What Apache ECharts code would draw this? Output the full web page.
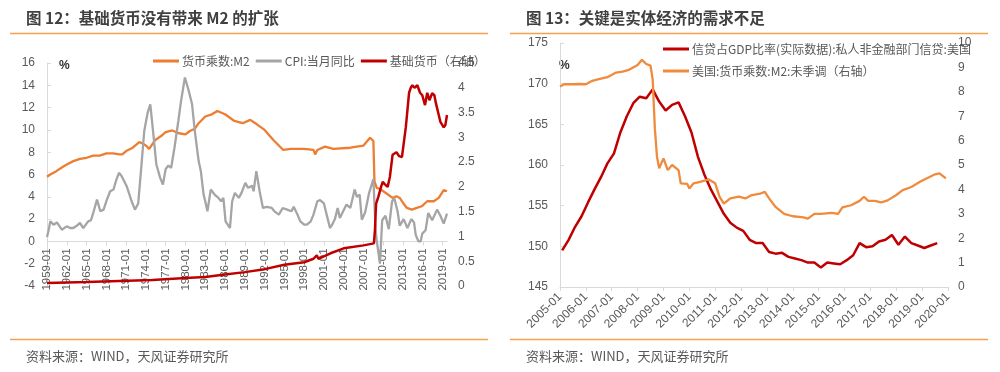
<!DOCTYPE html>
<html><head><meta charset="utf-8">
<script src="https://cdn.jsdelivr.net/npm/echarts@6/dist/echarts.min.js"></script>
<style>html,body{margin:0;padding:0;background:#fff}#c{width:1000px;height:372px}</style>
</head><body><div id="c"></div>
<script>
// ---------- Left chart (Fig.12) ----------
const leftStartYear = 1959, leftEndYear = 2019, leftEndMonth = 9;
const leftLegend = ['货币乘数:M2', 'CPI:当月同比', '基础货币（右轴）'];
const leftYTicks = { min: -4, max: 16, interval: 2 };
const leftRYTicks = { min: 0, max: 4.5, interval: 0.5 };
const m2Mult = [
['1959-01',5.8],['1959-07',6.0],['1960-06',6.3],['1961-06',6.7],['1962-01',6.9],['1963-01',7.2],['1964-01',7.4],
['1965-01',7.5],['1966-01',7.7],['1967-01',7.7],['1968-01',7.9],['1969-01',7.9],['1970-01',7.8],['1970-06',7.8],
['1971-01',8.1],['1972-01',8.4],['1973-01',8.9],['1973-06',8.8],['1974-01',8.6],['1974-07',8.3],['1975-06',9.1],
['1976-06',9.5],['1977-01',9.8],['1978-01',9.95],['1979-01',9.7],['1980-01',9.6],['1980-09',9.9],['1981-06',10.1],
['1982-01',10.6],['1983-01',11.2],['1984-01',11.4],['1984-11',11.7],['1986-01',11.4],['1987-06',10.8],['1988-09',10.6],
['1989-11',10.9],['1990-11',10.5],['1992-01',10.0],['1993-05',9.1],['1994-11',8.2],['1996-01',8.3],['1998-01',8.3],
['1999-06',8.2],['1999-09',7.8],['2000-01',8.2],['2001-03',8.5],['2002-06',8.3],['2005-01',8.4],['2007-01',8.6],
['2008-01',9.3],['2008-07',9.0],['2008-09',5.4],['2009-01',4.8],['2009-07',4.7],['2010-07',4.3],['2011-06',3.9],
['2012-01',4.05],['2012-07',3.9],['2013-01',3.45],['2013-08',3.0],['2014-05',2.85],['2015-02',3.0],['2015-11',3.15],
['2016-09',3.6],['2017-09',3.6],['2018-06',3.9],['2019-03',4.6],['2019-09',4.5]
];
const cpi = [
['1959-01',0.4],['1959-04',1.0],['1959-07',1.8],['1960-01',1.5],['1960-07',1.7],['1961-04',1.05],['1962-01',1.35],
['1962-07',1.2],['1963-01',1.2],['1963-07',1.4],['1964-01',1.65],['1964-07',1.2],['1965-04',1.8],['1965-09',1.9],
['1966-02',2.7],['1966-08',3.75],['1967-02',2.7],['1967-08',2.85],['1968-02',3.75],['1968-08',4.5],['1969-02',4.65],
['1969-07',5.5],['1969-12',6.15],['1970-05',5.85],['1971-02',4.95],['1971-11',3.6],['1972-05',2.85],['1972-11',3.4],
['1973-05',6.9],['1973-10',9.9],['1974-04',11.5],['1974-09',12.3],['1975-02',9.9],['1975-08',6.9],['1976-03',5.7],
['1976-08',5.1],['1977-01',6.5],['1977-06',6.8],['1977-11',6.6],['1978-05',8.4],['1978-12',10.8],['1979-05',12.6],
['1979-12',14.7],['1980-03',14.8],['1980-07',13.5],['1981-01',12.3],['1981-06',9.9],['1982-01',7.2],['1982-05',6.3],
['1982-10',4.2],['1983-01',3.6],['1983-05',2.7],['1983-11',4.65],['1984-06',4.2],['1985-01',3.9],['1985-06',3.6],
['1985-10',3.9],['1986-02',1.8],['1986-06',1.5],['1986-10',1.2],['1987-02',3.6],['1987-07',4.35],['1988-02',3.9],
['1988-07',4.35],['1989-02',5.25],['1989-07',4.8],['1990-02',5.0],['1990-05',4.5],['1990-10',6.3],['1991-04',4.5],
['1991-10',3.0],['1992-05',3.1],['1993-02',3.0],['1993-07',2.7],['1994-03',2.4],['1994-10',3.0],['1995-06',2.85],
['1996-02',2.7],['1996-06',3.1],['1997-01',2.4],['1997-06',1.8],['1998-01',1.5],['1998-06',1.5],['1999-01',1.8],
['1999-06',2.4],['2000-01',3.6],['2000-06',3.7],['2001-01',3.4],['2001-06',2.4],['2001-12',1.2],['2002-04',1.5],
['2002-09',2.0],['2003-02',3.0],['2003-06',2.1],['2004-06',3.3],['2005-01',3.0],['2005-09',4.65],['2006-01',4.0],
['2006-06',4.2],['2006-10',1.95],['2007-04',2.6],['2007-11',4.3],['2008-07',5.6],['2008-11',1.1],['2009-01',0.1],
['2009-07',-2.0],['2009-11',1.9],['2010-05',2.3],['2010-11',1.1],['2011-05',3.6],['2011-09',3.9],['2012-03',2.7],
['2012-07',1.4],['2013-02',2.0],['2013-09',1.2],['2014-04',2.0],['2014-09',1.7],['2014-12',0.6],['2015-05',0.0],
['2015-09',0.0],['2015-12',0.7],['2016-06',1.0],['2016-11',2.55],['2017-06',1.9],['2018-03',2.85],['2018-09',2.3],
['2019-03',1.6],['2019-09',2.5]
];
const baseMoney = [
['1959-01',0.06],['1965-01',0.08],['1970-01',0.10],['1975-01',0.12],['1980-01',0.16],['1983-01',0.18],['1986-01',0.23],
['1989-01',0.28],['1992-01',0.34],['1995-01',0.43],['1998-01',0.48],['1999-06',0.55],['1999-12',0.62],['2000-03',0.55],
['2001-01',0.60],['2002-01',0.66],['2004-01',0.76],['2007-01',0.82],['2008-08',0.86],['2008-09',0.9],['2008-10',1.15],
['2008-11',1.45],['2008-12',1.66],['2009-04',1.8],['2009-09',2.0],['2009-12',2.1],['2010-04',2.05],['2010-09',2.0],
['2011-01',2.2],['2011-06',2.65],['2012-01',2.7],['2012-06',2.62],['2012-11',2.6],['2013-06',3.2],['2013-12',3.9],
['2014-03',4.0],['2014-06',4.05],['2014-10',4.0],['2015-03',4.05],['2015-08',3.9],['2015-12',3.85],['2016-05',3.65],
['2016-09',3.9],['2017-01',3.75],['2017-06',3.89],['2017-10',3.85],['2018-01',3.68],['2018-06',3.45],['2018-09',3.31],
['2019-03',3.2],['2019-06',3.25],['2019-09',3.45]
];

// ---------- Right chart (Fig.13) ----------
const rightStartYear = 2005, rightEndYear = 2020;
const rightLegend = ['信贷占GDP比率(实际数据):私人非金融部门信贷:美国', '美国:货币乘数:M2:未季调（右轴）'];
const rightYTicks = { min: 145, max: 175, interval: 5 };
const rightRYTicks = { min: 0, max: 10, interval: 1 };
const creditGdp = [
['2005-02',149.5],['2005-05',150.8],['2005-08',152.4],['2005-11',153.7],['2006-02',155.4],['2006-05',157.0],
['2006-08',158.5],['2006-11',160.2],['2007-02',161.4],['2007-05',164.0],['2007-08',166.0],['2007-11',167.6],
['2008-02',168.4],['2008-05',168.2],['2008-08',169.3],['2008-11',167.8],['2009-02',166.7],['2009-05',167.4],
['2009-08',167.7],['2009-11',166.0],['2010-02',164.0],['2010-05',161.0],['2010-08',158.8],['2010-11',157.0],
['2011-02',155.5],['2011-05',154.0],['2011-08',152.9],['2011-11',152.3],['2012-02',151.9],['2012-05',150.8],
['2012-08',150.4],['2012-11',150.4],['2013-02',149.3],['2013-05',149.1],['2013-08',149.2],['2013-11',148.7],
['2014-02',148.5],['2014-05',148.3],['2014-08',148.0],['2014-11',148.0],['2015-02',147.4],['2015-05',148.0],
['2015-08',147.9],['2015-11',147.8],['2016-02',148.3],['2016-05',148.9],['2016-08',150.4],['2016-11',149.9],
['2017-02',150.0],['2017-05',150.6],['2017-08',150.8],['2017-11',151.4],['2018-02',150.2],['2018-05',151.2],
['2018-08',150.4],['2018-11',150.1],['2019-02',149.8],['2019-05',150.1],['2019-08',150.4]
];
const usM2Mult = [
['2005-01',8.22],['2005-03',8.31],['2005-07',8.31],['2005-10',8.32],['2006-01',8.31],['2006-04',8.45],['2006-07',8.52],
['2006-11',8.6],['2007-03',8.79],['2007-06',8.83],['2007-09',8.9],['2008-01',9.1],['2008-03',9.31],['2008-05',9.14],
['2008-07',9.07],['2008-08',8.5],['2008-09',6.5],['2008-10',5.34],['2008-11',4.86],['2009-01',5.27],['2009-03',4.79],
['2009-05',5.0],['2009-08',4.79],['2009-09',4.25],['2009-12',4.23],['2010-01',4.04],['2010-03',4.25],['2010-06',4.31],
['2010-10',4.41],['2011-01',4.25],['2011-03',3.7],['2011-05',3.42],['2011-08',3.63],['2011-12',3.7],['2012-03',3.63],
['2012-06',3.77],['2012-10',3.83],['2012-12',3.9],['2013-02',3.63],['2013-05',3.28],['2013-09',3.0],['2014-01',2.9],
['2014-06',2.85],['2014-08',2.8],['2014-11',3.0],['2015-02',3.0],['2015-07',3.04],['2015-10',3.0],['2015-12',3.26],
['2016-04',3.35],['2016-08',3.53],['2016-10',3.7],['2016-12',3.53],['2017-03',3.53],['2017-06',3.47],['2017-09',3.55],
['2018-01',3.77],['2018-04',3.97],['2018-08',4.1],['2018-12',4.31],['2019-03',4.45],['2019-07',4.62],['2019-09',4.66],
['2019-11',4.52],['2019-12',4.45]
];

// ---------- build categories ----------
function months(y0, y1, m1) {
  const out = [];
  for (let y = y0; y <= y1; y++) {
    const last = (y === y1) ? m1 : 12;
    for (let m = 1; m <= last; m++) out.push(y + '-' + (m < 10 ? '0' + m : m));
  }
  return out;
}
const leftCats = months(leftStartYear, leftEndYear, leftEndMonth);
const rightCats = months(rightStartYear, rightEndYear, 1);
const toIdx = (cats, arr) => arr.map(d => [cats.indexOf(d[0]), d[1]]);

const ORANGE = '#ED7D31', GRAY = '#A5A5A5', RED = '#C00000';
const AXIS = '#D9D9D9', TXT = '#595959';
const FONT = '"Liberation Sans", Arial, "Noto Sans CJK SC", sans-serif';
const CJK = '"Noto Sans CJK SC", "Liberation Sans", sans-serif';

const leftGrid = { left: 47, top: 63, width: 400, height: 223 };
// x axis sits on the zero line of the left value axis
const zeroOffset = -leftGrid.height * (0 - leftYTicks.min) / (leftYTicks.max - leftYTicks.min);

const chart = echarts.init(document.getElementById('c'), null, { renderer: 'canvas' });
const valLabel = { color: TXT, fontSize: 12, fontFamily: FONT };

chart.setOption({
  animation: false,
  textStyle: { fontFamily: CJK },
  title: [
    { text: '图 12：基础货币没有带来 M2 的扩张', left: 21, top: 5, textStyle: { fontSize: 15.5, fontWeight: 'bold', color: '#404040', fontFamily: CJK } },
    { text: '图 13：关键是实体经济的需求不足', left: 521, top: 5, textStyle: { fontSize: 15.5, fontWeight: 'bold', color: '#404040', fontFamily: CJK } },
    { text: '资料来源：WIND，天风证券研究所', left: 21, top: 345, textStyle: { fontSize: 13, fontWeight: 'normal', color: TXT, fontFamily: CJK } },
    { text: '资料来源：WIND，天风证券研究所', left: 521, top: 345, textStyle: { fontSize: 13, fontWeight: 'normal', color: TXT, fontFamily: CJK } }
  ],
  graphic: [
    { type: 'line', shape: { x1: 10, y1: 33.5, x2: 488, y2: 33.5 }, style: { stroke: '#F5A04E', lineWidth: 1.5 } },
    { type: 'line', shape: { x1: 510, y1: 33.5, x2: 988, y2: 33.5 }, style: { stroke: '#F5A04E', lineWidth: 1.5 } },
    { type: 'line', shape: { x1: 10, y1: 339.5, x2: 488, y2: 339.5 }, style: { stroke: '#F5A04E', lineWidth: 1.5 } },
    { type: 'line', shape: { x1: 510, y1: 339.5, x2: 988, y2: 339.5 }, style: { stroke: '#F5A04E', lineWidth: 1.5 } },
    { type: 'text', left: 59, top: 60, style: { text: '%', fill: '#333', font: 'bold 12px "Liberation Sans", Arial' } },
    { type: 'text', left: 559, top: 60, style: { text: '%', fill: '#333', font: 'bold 12px "Liberation Sans", Arial' } }
  ],
  legend: [
    { data: leftLegend, left: 148, top: 50, itemWidth: 26, itemHeight: 3, itemGap: 6, icon: 'rect',
      textStyle: { color: TXT, fontSize: 12, fontFamily: CJK, padding: [0, 0, 0, -2] } },
    { data: rightLegend, orient: 'vertical', left: 658, top: 38, itemWidth: 26, itemHeight: 3, itemGap: 10, icon: 'rect',
      textStyle: { color: TXT, fontSize: 12, fontFamily: CJK, padding: [0, 0, 0, -2] } }
  ],
  grid: [
    leftGrid,
    { left: 560, top: 43, width: 388, height: 244 }
  ],
  xAxis: [
    { type: 'category', gridIndex: 0, data: leftCats, boundaryGap: false, offset: zeroOffset,
      axisLine: { onZero: false, lineStyle: { color: AXIS, width: 1 } },
      axisTick: { show: true, interval: 35, length: 4, lineStyle: { color: AXIS } },
      axisLabel: { interval: 35, rotate: 90, margin: 7, color: TXT, fontSize: 11.5, fontFamily: FONT },
      splitLine: { show: false } },
    { type: 'category', gridIndex: 1, data: rightCats, boundaryGap: false,
      axisLine: { lineStyle: { color: AXIS, width: 1 } },
      axisTick: { show: true, interval: 11, length: 4, lineStyle: { color: AXIS } },
      axisLabel: { interval: 11, rotate: 45, margin: 8, color: TXT, fontSize: 12, fontFamily: FONT },
      splitLine: { show: false } }
  ],
  yAxis: [
    { type: 'value', gridIndex: 0, position: 'left', min: leftYTicks.min, max: leftYTicks.max, interval: leftYTicks.interval,
      axisLine: { show: true, lineStyle: { color: AXIS } }, axisTick: { show: true, inside: true, length: 4, lineStyle: { color: AXIS } },
      axisLabel: Object.assign({ margin: 12 }, valLabel), splitLine: { show: false } },
    { type: 'value', gridIndex: 0, position: 'right', min: leftRYTicks.min, max: leftRYTicks.max, interval: leftRYTicks.interval,
      axisLine: { show: false }, axisTick: { show: false },
      axisLabel: Object.assign({ margin: 11 }, valLabel), splitLine: { show: false } },
    { type: 'value', gridIndex: 1, position: 'left', min: rightYTicks.min, max: rightYTicks.max, interval: rightYTicks.interval,
      axisLine: { show: true, lineStyle: { color: AXIS } }, axisTick: { show: true, inside: true, length: 4, lineStyle: { color: AXIS } },
      axisLabel: Object.assign({ margin: 12 }, valLabel), splitLine: { show: false } },
    { type: 'value', gridIndex: 1, position: 'right', min: rightRYTicks.min, max: rightRYTicks.max, interval: rightRYTicks.interval,
      axisLine: { show: false }, axisTick: { show: false },
      axisLabel: Object.assign({ margin: 10 }, valLabel), splitLine: { show: false } }
  ],
  series: [
    { name: leftLegend[0], type: 'line', xAxisIndex: 0, yAxisIndex: 0, data: toIdx(leftCats, m2Mult), showSymbol: false,
      lineStyle: { color: ORANGE, width: 2.3 }, itemStyle: { color: ORANGE } },
    { name: leftLegend[1], type: 'line', xAxisIndex: 0, yAxisIndex: 0, data: toIdx(leftCats, cpi), showSymbol: false,
      lineStyle: { color: GRAY, width: 2.3 }, itemStyle: { color: GRAY } },
    { name: leftLegend[2], type: 'line', xAxisIndex: 0, yAxisIndex: 1, data: toIdx(leftCats, baseMoney), showSymbol: false,
      lineStyle: { color: RED, width: 2.5 }, itemStyle: { color: RED } },
    { name: rightLegend[0], type: 'line', xAxisIndex: 1, yAxisIndex: 2, data: toIdx(rightCats, creditGdp), showSymbol: false,
      lineStyle: { color: RED, width: 2.5 }, itemStyle: { color: RED } },
    { name: rightLegend[1], type: 'line', xAxisIndex: 1, yAxisIndex: 3, data: toIdx(rightCats, usM2Mult), showSymbol: false,
      lineStyle: { color: '#F08A3C', width: 2.3 }, itemStyle: { color: '#F08A3C' } }
  ]
});
</script></body></html>
